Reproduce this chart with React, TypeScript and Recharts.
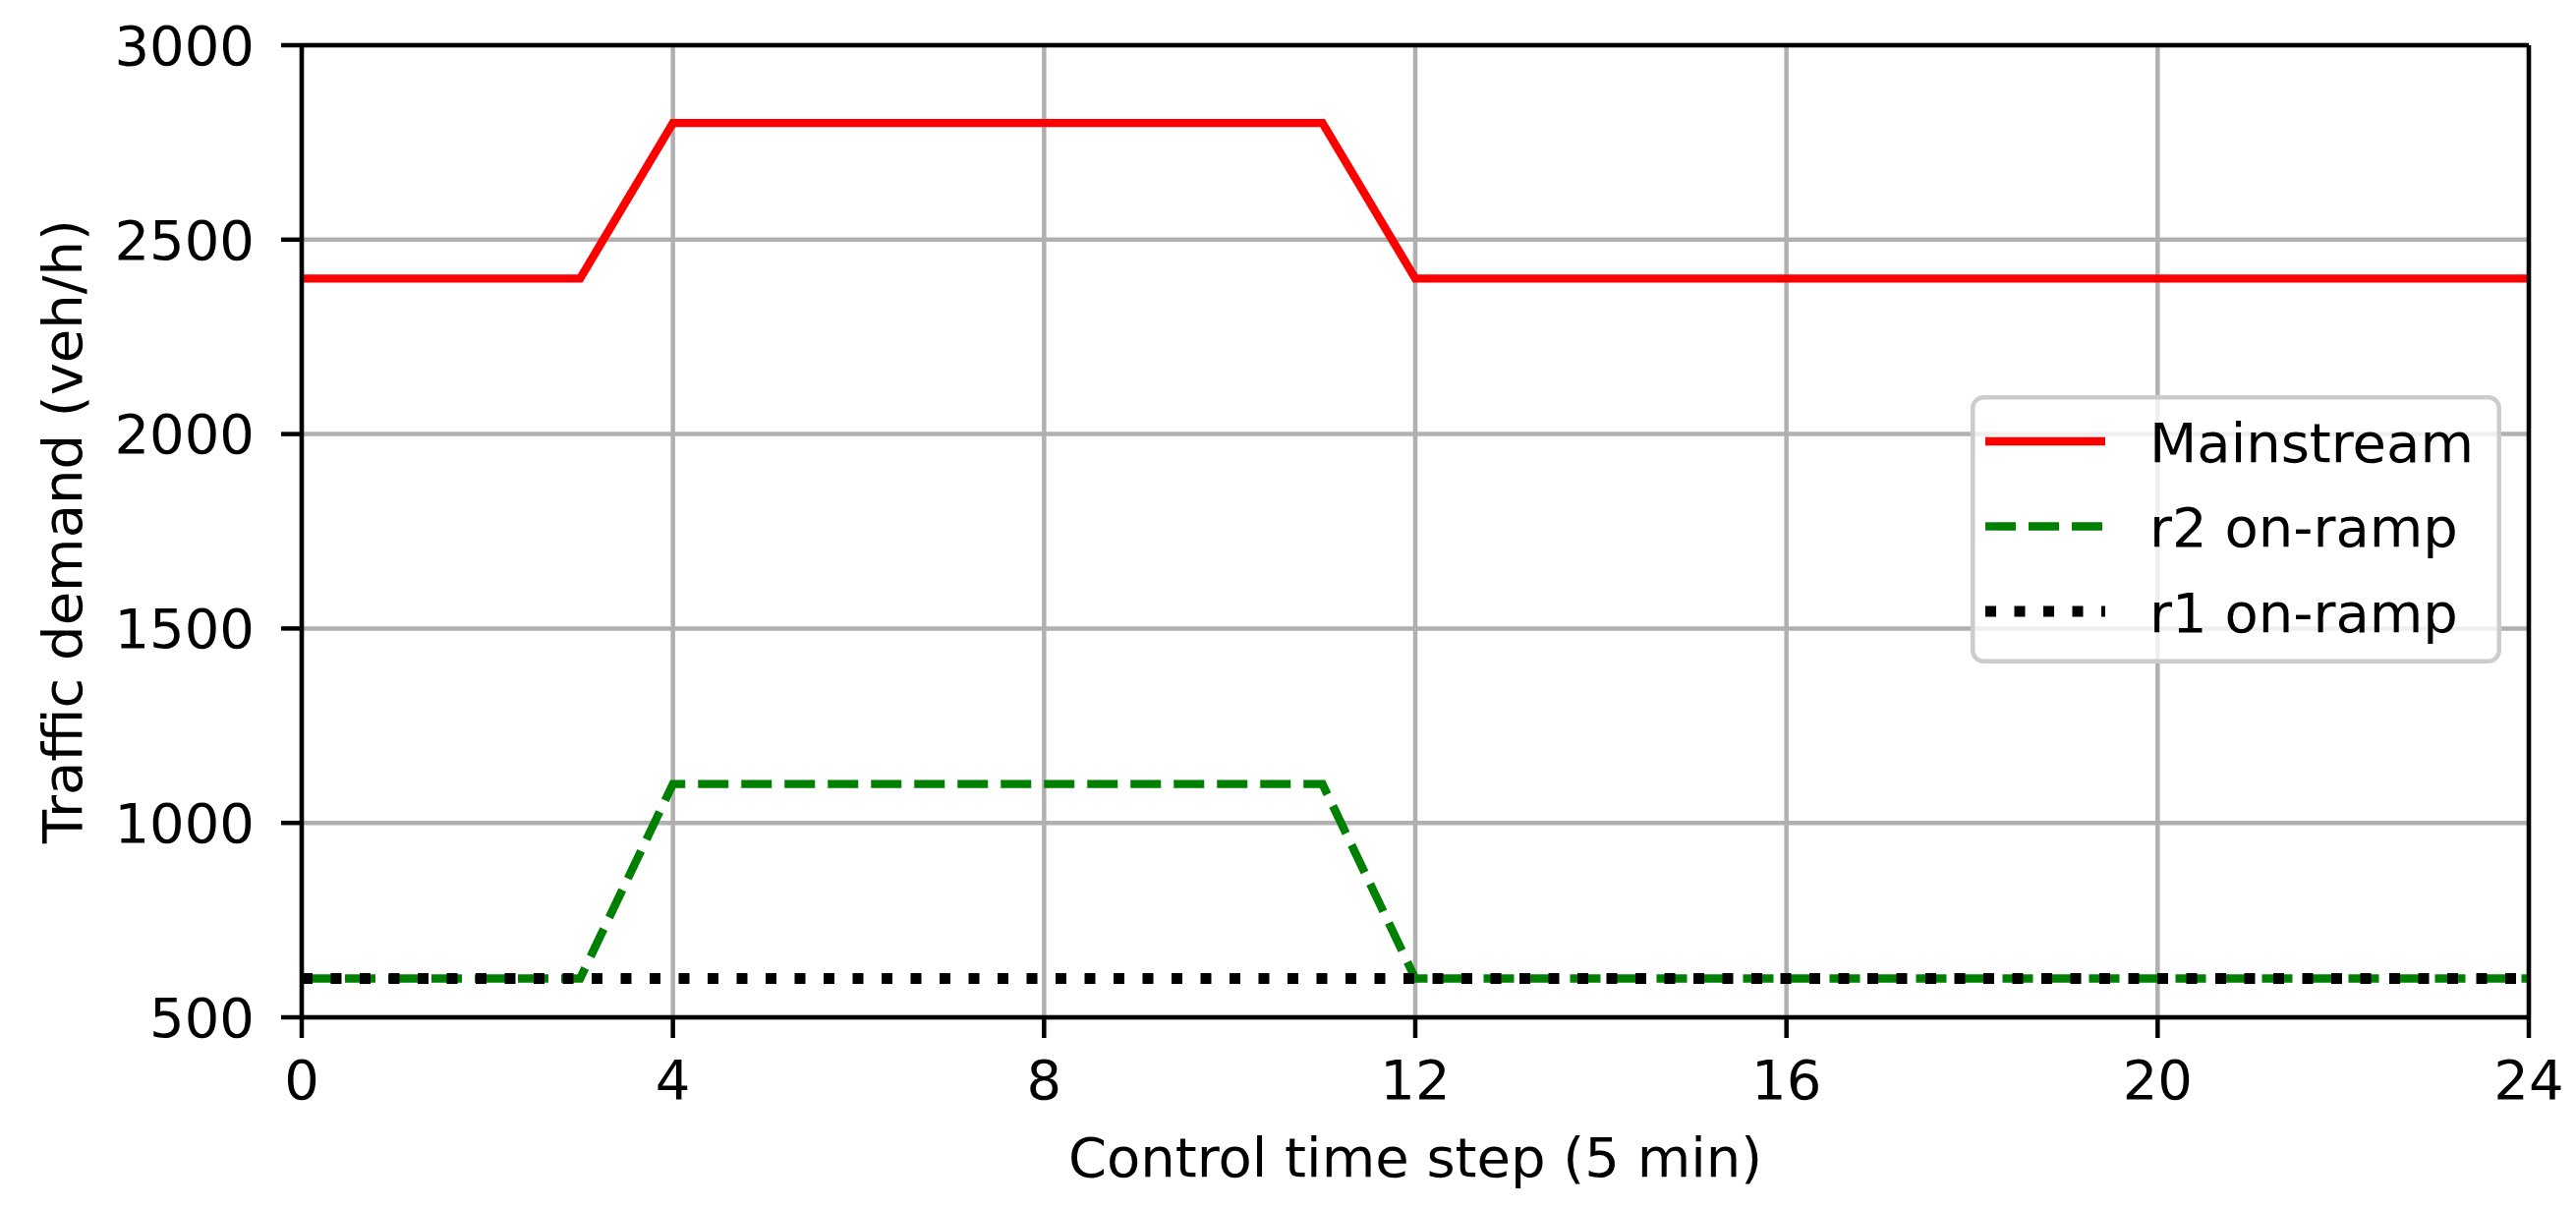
import React from 'react';
import { LineChart, Line, XAxis, YAxis, CartesianGrid, Legend, Label } from 'recharts';

const steps = [0, 1, 2, 3, 4, 5, 6, 7, 8, 9, 10, 11, 12, 13, 14, 15, 16, 17, 18, 19, 20, 21, 22, 23, 24];
const mainstream = [2400, 2400, 2400, 2400, 2800, 2800, 2800, 2800, 2800, 2800, 2800, 2800, 2400, 2400, 2400, 2400, 2400, 2400, 2400, 2400, 2400, 2400, 2400, 2400, 2400];
const r2OnRamp = [600, 600, 600, 600, 1100, 1100, 1100, 1100, 1100, 1100, 1100, 1100, 600, 600, 600, 600, 600, 600, 600, 600, 600, 600, 600, 600, 600];
const r1OnRamp = [600, 600, 600, 600, 600, 600, 600, 600, 600, 600, 600, 600, 600, 600, 600, 600, 600, 600, 600, 600, 600, 600, 600, 600, 600];

const xTicks = [0, 4, 8, 12, 16, 20, 24];
const yTicks = [500, 1000, 1500, 2000, 2500, 3000];

const seriesNames = ['Mainstream', 'r2 on-ramp', 'r1 on-ramp'];
const seriesKeys = ['mainstream', 'r2', 'r1'];
const seriesColors = ['#ff0000', '#008000', '#000000'];
const seriesWidths = [8.4, 8.4, 11];
const seriesDashes = [undefined, '31 13', '11 18.5'];

const data = steps.map((s, i) => ({
  step: s,
  mainstream: mainstream[i],
  r2: r2OnRamp[i],
  r1: r1OnRamp[i],
}));

const FONT = 'DejaVu Sans';
const FS = 56;

const LegendBox = () => {
  const w = 540;
  const h = 273;
  const rows = [47, 133.5, 220];
  return (
    <svg width={w} height={h} style={{ display: 'block' }}>
      <rect x={2.25} y={2.25} width={w - 4.5} height={h - 4.5} rx={11} ry={11}
        fill="rgba(255,255,255,0.8)" stroke="#cccccc" strokeWidth={4.5} />
      {seriesNames.map((name, i) => (
        <g key={name}>
          <line x1={15} x2={137} y1={rows[i]} y2={rows[i]} stroke={seriesColors[i]}
            strokeWidth={seriesWidths[i]} strokeDasharray={seriesDashes[i]} />
          <text x={182} y={rows[i] + 20.5} fontFamily={FONT} fontSize={FS} fill="#000">{name}</text>
        </g>
      ))}
    </svg>
  );
};

const YLabel = (props: any) => {
  const vb = props.viewBox || { x: 0, y: 46, width: 307, height: 989 };
  const cx = vb.x + 83;
  const cy = vb.y + vb.height / 2;
  return (
    <text x={cx} y={cy} transform={`rotate(-90, ${cx}, ${cy})`} textAnchor="middle"
      fontFamily={FONT} fontSize={FS} fill="#000">Traffic demand (veh/h)</text>
  );
};

const XLabel = (props: any) => {
  const vb = props.viewBox || { x: 307, y: 1035, width: 2266, height: 195 };
  const cx = vb.x + vb.width / 2;
  const cy = vb.y + 162;
  return (
    <text x={cx} y={cy} textAnchor="middle" fontFamily={FONT} fontSize={FS} fill="#000">
      Control time step (5 min)
    </text>
  );
};

export default function App() {
  const axisLine = { stroke: '#000', strokeWidth: 4.5 };
  const tickLine = { stroke: '#000', strokeWidth: 4.5 };
  const tickStyle = { fontSize: FS, fill: '#000', fontFamily: FONT };
  return (
    <div style={{ position: 'absolute', left: 0, top: 0, width: 2621, height: 1230, background: '#fff' }}>
      <LineChart width={2621} height={1230} data={data}
        margin={{ top: 44, right: 46, bottom: 0, left: 0 }}>
        <CartesianGrid stroke="#b0b0b0" strokeWidth={4.5} horizontalValues={yTicks} verticalValues={xTicks} />
        <XAxis dataKey="step" type="number" domain={[0, 24]} ticks={xTicks} interval={0}
          height={195} axisLine={axisLine} tickLine={tickLine} tickSize={21} tickMargin={22}
          tick={tickStyle}>
          <Label content={XLabel} />
        </XAxis>
        <XAxis xAxisId="top" orientation="top" dataKey="step" type="number" domain={[0, 24]}
          ticks={xTicks} height={2} tick={false} tickLine={false} axisLine={axisLine} />
        <YAxis type="number" domain={[500, 3000]} ticks={yTicks} interval={0} width={307}
          axisLine={axisLine} tickLine={tickLine} tickSize={21} tickMargin={27} tick={tickStyle}>
          <Label content={YLabel} />
        </YAxis>
        <YAxis yAxisId="right" orientation="right" type="number" domain={[500, 3000]} ticks={yTicks}
          width={2} tick={false} tickLine={false} axisLine={axisLine} />
        {seriesKeys.map((k, i) => (
          <Line key={k} dataKey={k} name={seriesNames[i]} type="linear" stroke={seriesColors[i]}
            strokeWidth={seriesWidths[i]} strokeDasharray={seriesDashes[i]} dot={false}
            activeDot={false} isAnimationActive={false} />
        ))}
        <Legend layout="vertical" align="center" verticalAlign="middle" content={LegendBox}
          wrapperStyle={{ left: 2005, top: 402, width: 540, height: 273 }} />
      </LineChart>
    </div>
  );
}
